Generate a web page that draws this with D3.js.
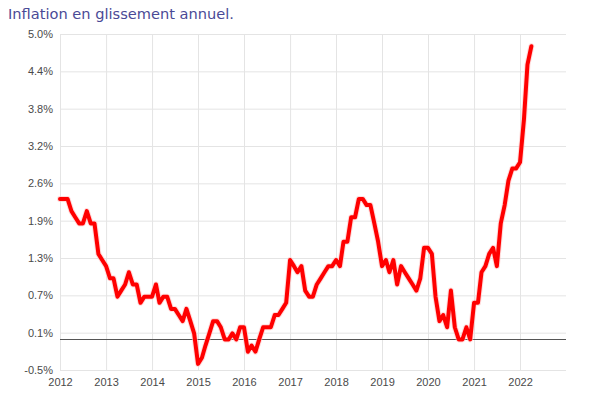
<!DOCTYPE html>
<html>
<head>
<meta charset="utf-8">
<script src="https://cdn.jsdelivr.net/npm/d3@7"></script>
<style>
  html, body { margin: 0; padding: 0; background: #fff; }
  svg { display: block; }
</style>
</head>
<body>
<svg id="chart" width="600" height="396"></svg>
<script>
// ---- Data ----
const title = "Inflation en glissement annuel.";
const startMonth = "2012-01";
// Monthly year-on-year inflation (%), Jan 2012 .. Apr 2022
const values2012 = [2.3, 2.3, 2.3, 2.1, 2.0, 1.9, 1.9, 2.1, 1.9, 1.9, 1.4, 1.3];
const values2013 = [1.2, 1.0, 1.0, 0.7, 0.8, 0.9, 1.1, 0.9, 0.9, 0.6, 0.7, 0.7];
const values2014 = [0.7, 0.9, 0.6, 0.7, 0.7, 0.5, 0.5, 0.4, 0.3, 0.5, 0.3, 0.1];
const values2015 = [-0.4, -0.3, -0.1, 0.1, 0.3, 0.3, 0.2, 0.0, 0.0, 0.1, 0.0, 0.2];
const values2016 = [0.2, -0.2, -0.1, -0.2, 0.0, 0.2, 0.2, 0.2, 0.4, 0.4, 0.5, 0.6];
const values2017 = [1.3, 1.2, 1.1, 1.2, 0.8, 0.7, 0.7, 0.9, 1.0, 1.1, 1.2, 1.2];
const values2018 = [1.3, 1.2, 1.6, 1.6, 2.0, 2.0, 2.3, 2.3, 2.2, 2.2, 1.9, 1.6];
const values2019 = [1.2, 1.3, 1.1, 1.3, 0.9, 1.2, 1.1, 1.0, 0.9, 0.8, 1.0, 1.5];
const values2020 = [1.5, 1.4, 0.7, 0.3, 0.4, 0.2, 0.8, 0.2, 0.0, 0.0, 0.2, 0.0];
const values2021 = [0.6, 0.6, 1.1, 1.2, 1.4, 1.5, 1.2, 1.9, 2.2, 2.6, 2.8, 2.8];
const values2022 = [2.9, 3.6, 4.5, 4.8];
const xTickYears = ["2012","2013","2014","2015","2016","2017","2018","2019","2020","2021","2022"];
const yTickLabels = ["-0.5%","0.1%","0.7%","1.3%","1.9%","2.6%","3.2%","3.8%","4.4%","5.0%"];
const yMin = -0.5, yMax = 5.0;

// ---- Build ----
const values = [].concat(values2012, values2013, values2014, values2015, values2016,
  values2017, values2018, values2019, values2020, values2021, values2022);
const parse = d3.timeParse("%Y-%m");
const start = parse(startMonth);
const series = values.map((v, i) => ({ date: d3.timeMonth.offset(start, i), value: v }));

const svg = d3.select("#chart");
const mLeft = 60, mRight = 566, mTop = 34, mBottom = 370;

const x = d3.scaleTime()
  .domain([parse("2012-01"), parse("2023-01")])
  .range([mLeft, mRight]);
const y = d3.scaleLinear().domain([yMin, yMax]).range([mBottom, mTop]);

const yTickVals = yTickLabels.map((_, i) => yMin + i * (yMax - yMin) / (yTickLabels.length - 1));
const xTickVals = xTickYears.map(s => d3.timeParse("%Y")(s));

// Title
svg.append("text")
  .attr("x", 8).attr("y", 19)
  .attr("font-family", "DejaVu Sans, Verdana, sans-serif")
  .attr("font-size", 14.6)
  .attr("fill", "#4a4a96")
  .text(title);

// Y axis with gridlines
const yAxis = svg.append("g")
  .attr("transform", `translate(${mLeft},0)`)
  .call(d3.axisLeft(y).tickValues(yTickVals).tickFormat((d, i) => yTickLabels[i])
    .tickSize(-(mRight - mLeft)).tickPadding(7));
yAxis.select(".domain").remove();
yAxis.selectAll(".tick line").attr("stroke", "#e4e4e4");
yAxis.selectAll(".tick text")
  .attr("font-family", "Liberation Sans, Arial, sans-serif")
  .attr("font-size", 11).attr("fill", "#4a4a4a");

// X axis with gridlines
const xAxis = svg.append("g")
  .attr("transform", `translate(0,${mBottom})`)
  .call(d3.axisBottom(x).tickValues(xTickVals).tickFormat((d, i) => xTickYears[i])
    .tickSize(-(mBottom - mTop)).tickPadding(8));
xAxis.select(".domain").remove();
xAxis.selectAll(".tick line").attr("stroke", "#e4e4e4");
xAxis.selectAll(".tick text")
  .attr("font-family", "Liberation Sans, Arial, sans-serif")
  .attr("font-size", 11).attr("fill", "#4a4a4a");

// Zero baseline
svg.append("line")
  .attr("x1", mLeft).attr("x2", mRight)
  .attr("y1", Math.round(y(0)) + 0.5).attr("y2", Math.round(y(0)) + 0.5)
  .attr("stroke", "#555").attr("stroke-width", 1);

// Line
const line = d3.line().x(d => x(d.date)).y(d => y(d.value));
svg.append("path")
  .datum(series)
  .attr("d", line)
  .attr("fill", "none")
  .attr("stroke", "#ffc4c4")
  .attr("stroke-width", 6)
  .attr("stroke-linejoin", "round")
  .attr("stroke-linecap", "round")
  .attr("opacity", 0.6);
svg.append("path")
  .datum(series)
  .attr("d", line)
  .attr("fill", "none")
  .attr("stroke", "#ff0000")
  .attr("stroke-width", 4)
  .attr("stroke-linejoin", "round")
  .attr("stroke-linecap", "round");
</script>
</body>
</html>
